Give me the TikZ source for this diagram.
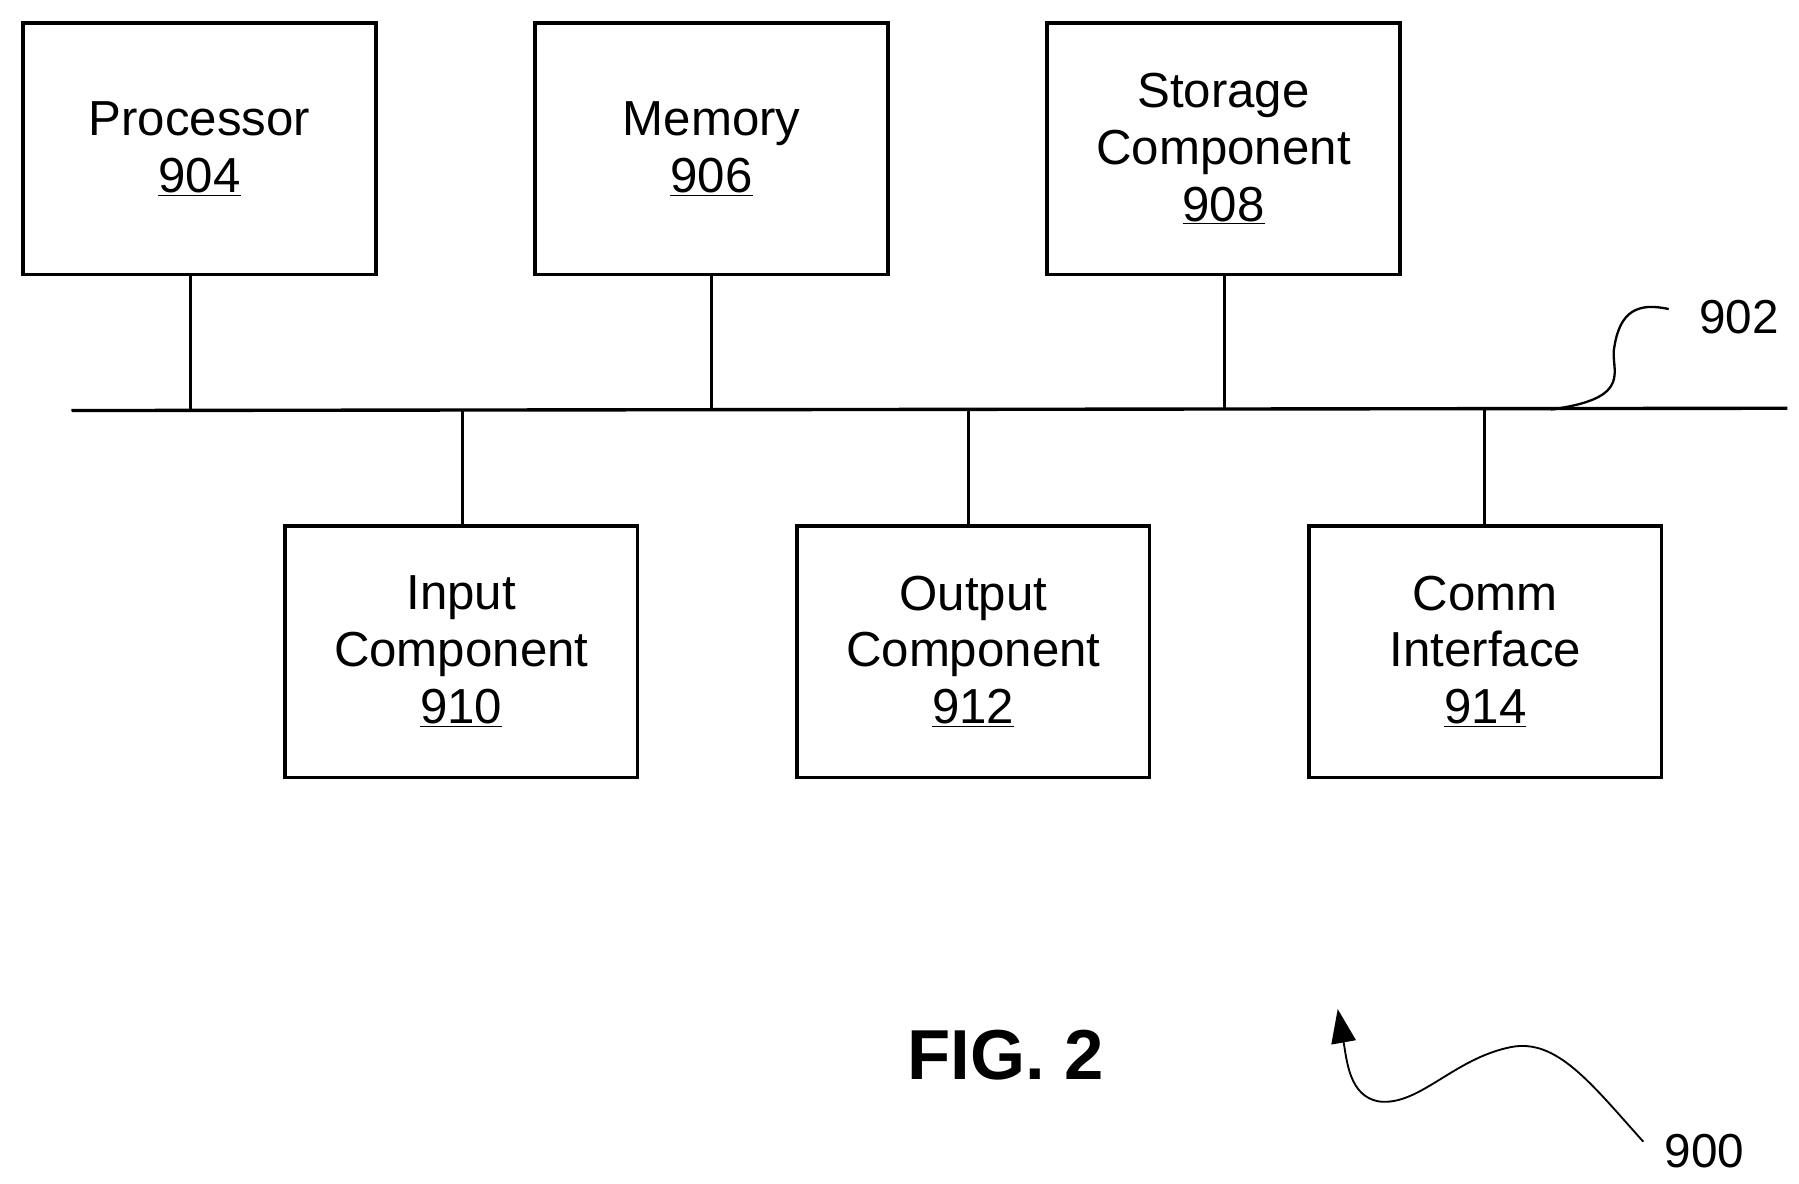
\documentclass[tikz,border=0pt]{standalone}
\usepackage{fontspec}
\setmainfont{Liberation Sans}
\usetikzlibrary{arrows.meta}
\begin{document}
\begin{tikzpicture}[x=0.75pt,y=-0.75pt,
  box/.style={draw,line width=2.2pt,minimum width=306*0.75pt,minimum height=218*0.75pt,align=center,font=\fontsize{32}{37}\selectfont,inner sep=0pt},
  ln/.style={line width=2.2pt},
  lbl/.style={font=\fontsize{31}{36}\selectfont}]
\useasboundingbox (0,0) rectangle (1560,1026);
\node[box] (p) at (173,129) {Processor\\\underline{904}};
\node[box] (m) at (617,129) {Memory\\\underline{906}};
\node[box] (s) at (1061,129) {Storage\\Component\\\underline{908}};
\node[box] (i) at (400,565) {Input\\Component\\\underline{910}};
\node[box] (o) at (844,565) {Output\\Component\\\underline{912}};
\node[box] (c) at (1288,565) {Comm\\Interface\\\underline{914}};
\coordinate (bl) at (62,356);
\coordinate (br) at (1550,354);
\draw[ln] (bl) -- (br);
\draw[ln] (165,238) -- (165,356);
\draw[ln] (m.south) -- (617,356);
\draw[ln] (1062,238) -- (1062,354);
\draw[ln] (401,356) -- (401,456);
\draw[ln] (840,355) -- (840,456);
\draw[ln] (1287,354) -- (1287,456);
\node[lbl] (n902) at (1508,275) {902};
\draw[line width=1.5pt] (1345,355) .. controls (1420,345) and (1395,320) .. (1400,300) .. controls (1405,270) and (1420,262) .. (1447,268);
\node[font=\bfseries\fontsize{46}{50}\selectfont] (fig) at (872,915) {FIG. 2};
\node[lbl] (n900) at (1478,998) {900};
\draw[line width=1.2pt,-{Triangle[length=22pt,width=16pt]}] (1425,990) .. controls (1380,940) and (1350,900) .. (1310,908) .. controls (1260,918) and (1230,960) .. (1195,955) .. controls (1170,950) and (1168,920) .. (1160,875);
\end{tikzpicture}
\end{document}
